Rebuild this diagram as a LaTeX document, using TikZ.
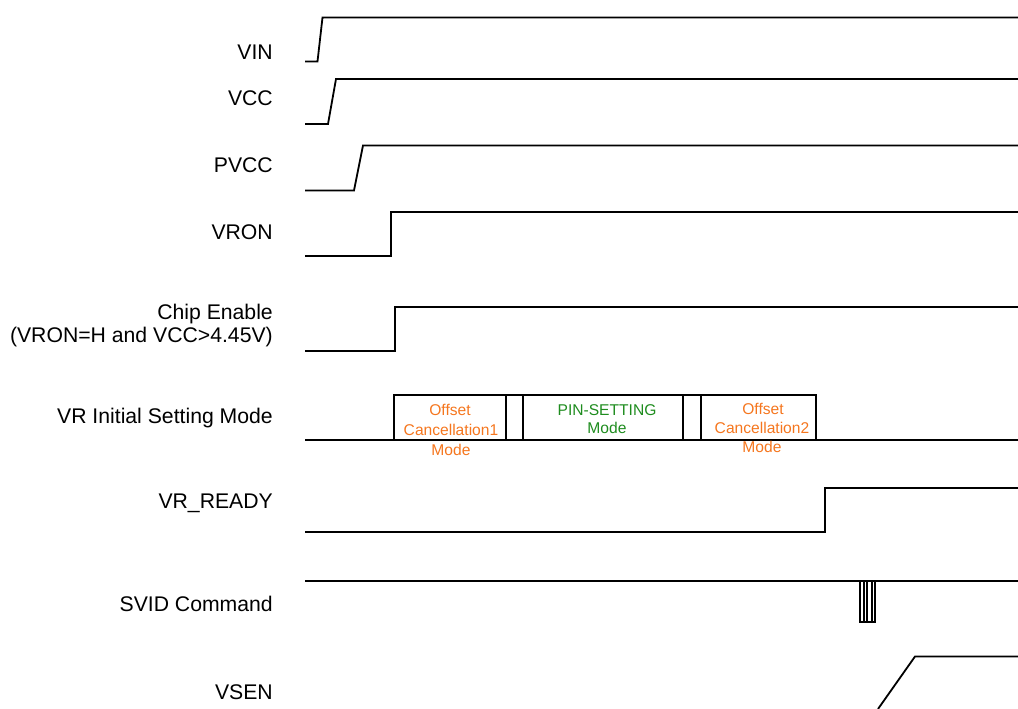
\documentclass[tikz,border=0pt]{standalone}
\usepackage{fontspec}
\setmainfont{Liberation Sans}
\definecolor{ocol}{RGB}{245,118,30}
\definecolor{gcol}{RGB}{30,140,30}
\begin{document}
\begin{tikzpicture}[x=1pt,y=-1pt,
  sig/.style={line width=1.8pt, line join=miter},
  lbl/.style={anchor=base east, inner sep=0pt, font=\fontsize{21.2}{24}\selectfont},
  btxt/.style={anchor=base, inner sep=0pt, font=\fontsize{15.6}{19}\selectfont}]
\useasboundingbox (0,0) rectangle (1018,709);
% labels
\node[lbl] (lvin) at (273,60) {VIN};
\node[lbl] (lvcc) at (273,106) {VCC};
\node[lbl] (lpvcc) at (273,172) {PVCC};
\node[lbl] (lvron) at (273,239) {VRON};
\node[lbl] (lce1) at (273,319) {Chip Enable};
\node[lbl] (lce2) at (273,342) {(VRON=H and VCC>4.45V)};
\node[lbl] (lvri) at (273,423) {VR Initial Setting Mode};
\node[lbl] (lrdy) at (273,508) {VR\_READY};
\node[lbl] (lsvid) at (273,611) {SVID Command};
\node[lbl] (lvsen) at (273,699) {VSEN};
% waveforms
\draw[sig] (305,61.5) -- (317.5,61.5) -- (322.5,17.5) -- (1018,17.5);
\draw[sig] (305,124) -- (328,124) -- (336,79) -- (1018,79);
\draw[sig] (305,190.5) -- (354,190.5) -- (363,145.5) -- (1018,145.5);
\draw[sig] (305,256) -- (391,256) -- (391,212) -- (1018,212);
\draw[sig] (305,351) -- (395,351) -- (395,307) -- (1018,307);
% VR initial setting mode
\draw[sig] (305,440) -- (1018,440);
\draw[sig] (394,440) -- (394,395) -- (816,395) -- (816,440);
\draw[sig] (505.7,395) -- (505.7,440);
\draw[sig] (523.3,395) -- (523.3,440);
\draw[sig] (682.7,395) -- (682.7,440);
\draw[sig] (700.7,395) -- (700.7,440);
\draw[line width=2.3pt] (542,440) -- (675,440);
\node[btxt, text=ocol] (o1a) at (450,415.5) {Offset};
\node[btxt, text=ocol] (o1b) at (451,435.5) {Cancellation1};
\node[btxt, text=ocol] (o1c) at (451,455.5) {Mode};
\node[btxt, text=gcol] (p1a) at (607,415.5) {PIN-SETTING};
\node[btxt, text=gcol] (p1b) at (607,433.5) {Mode};
\node[btxt, text=ocol] (o2a) at (763,414.5) {Offset};
\node[btxt, text=ocol] (o2b) at (762,433.5) {Cancellation2};
\node[btxt, text=ocol] (o2c) at (762,452.5) {Mode};
% VR_READY
\draw[sig] (305,532) -- (825,532) -- (825,488) -- (1018,488);
% SVID
\draw[sig] (305,581) -- (1018,581);
\draw[sig] (859.8,581) rectangle (875.2,622);
\draw[line width=1.2pt] (864,581) -- (864,622);
\draw[line width=1.2pt] (867,581) -- (867,622);
\draw[line width=1.2pt] (872,581) -- (872,622);
% VSEN
\draw[sig] (878,709) -- (915,656.5) -- (1018,656.5);
\end{tikzpicture}
\end{document}
